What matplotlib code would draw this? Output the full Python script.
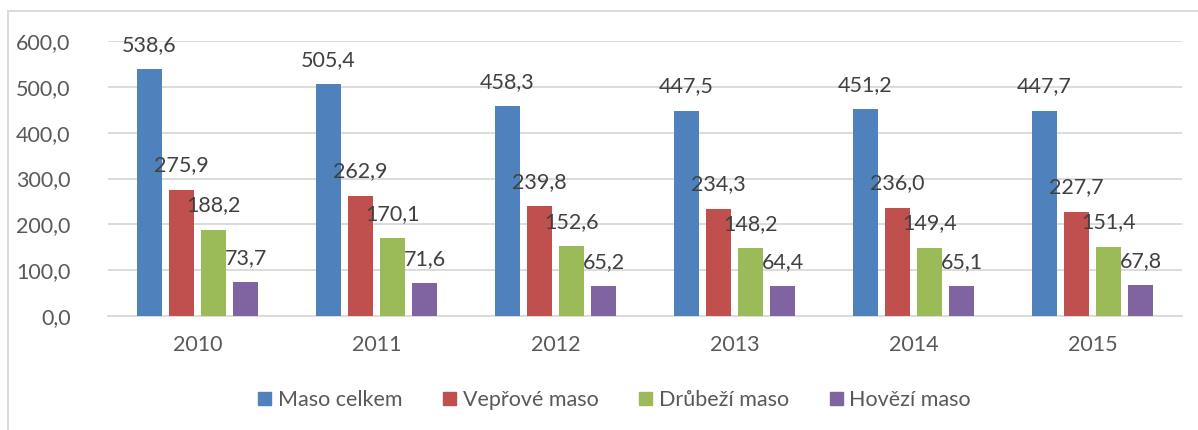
import matplotlib.pyplot as plt
import numpy as np
from matplotlib.lines import Line2D
from matplotlib.patches import Rectangle

FIG_W, FIG_H, DPI = 1198, 430, 100

YEARS = ["2010", "2011", "2012", "2013", "2014", "2015"]
SERIES_NAMES = ["Maso celkem", "Vepřové maso", "Drůbeží maso", "Hovězí maso"]
MASO_CELKEM = [538.6, 505.4, 458.3, 447.5, 451.2, 447.7]
VEPROVE = [275.9, 262.9, 239.8, 234.3, 236.0, 227.7]
DRUBEZI = [188.2, 170.1, 152.6, 148.2, 149.4, 151.4]
HOVEZI = [73.7, 71.6, 65.2, 64.4, 65.1, 67.8]
Y_TICKS = [0, 100, 200, 300, 400, 500, 600]

COLORS = ["#4F81BD", "#C0504D", "#9BBB59", "#8064A2"]
GRID_COLOR = "#D9D9D9"
TEXT_COLOR = "#595959"
LABEL_COLOR = "#404040"
FONT = "Lato"
FONT_SIZE = 15.5

BAR_PITCH = 0.18
BAR_WIDTH = 0.14


def fmt(v):
    return f"{v:.1f}".replace(".", ",")


def main():
    plt.rcParams["font.family"] = [FONT, "DejaVu Sans"]
    fig = plt.figure(figsize=(FIG_W / DPI, FIG_H / DPI), dpi=DPI)
    ax = fig.add_axes([108 / FIG_W, 1 - 316 / FIG_H, (1182 - 108) / FIG_W, (316 - 41) / FIG_H])

    series = [MASO_CELKEM, VEPROVE, DRUBEZI, HOVEZI]
    x = np.arange(len(YEARS))
    handles = []
    for i, (name, vals, color) in enumerate(zip(SERIES_NAMES, series, COLORS)):
        pos = x + (i - 1.5) * BAR_PITCH
        bars = ax.bar(pos, vals, width=BAR_WIDTH, color=color, zorder=3, label=name)
        handles.append(Rectangle((0, 0), 1, 1, color=color))
        for b, v in zip(bars, vals):
            ax.annotate(fmt(v), (b.get_x() + b.get_width() / 2, v),
                        xytext=(0, 17.5), textcoords="offset points",
                        ha="center", va="center", fontsize=FONT_SIZE,
                        color=LABEL_COLOR, zorder=4)

    ax.set_xlim(-0.5, len(YEARS) - 0.5)
    ax.set_ylim(0, 600)
    ax.set_yticks(Y_TICKS)
    ax.set_yticklabels([fmt(v) for v in Y_TICKS])
    ax.set_xticks(x)
    ax.set_xticklabels(YEARS)
    ax.tick_params(length=0, labelsize=FONT_SIZE, labelcolor=TEXT_COLOR)
    ax.tick_params(axis="y", pad=27)
    ax.tick_params(axis="x", pad=14)
    ax.grid(True, axis="y", color=GRID_COLOR, lw=1.3, zorder=0)
    for s in ["top", "right", "left"]:
        ax.spines[s].set_visible(False)
    ax.spines["bottom"].set_color(GRID_COLOR)
    ax.spines["bottom"].set_linewidth(1.3)

    fig.legend(handles, SERIES_NAMES, loc="center", bbox_to_anchor=(0.513, 1 - 400 / FIG_H),
               ncol=4, frameon=False, fontsize=FONT_SIZE, labelcolor=TEXT_COLOR,
               handlelength=0.6, handleheight=0.6, handletextpad=0.3, columnspacing=1.9)

    # chart border
    fig.add_artist(Line2D([8 / FIG_W, 8 / FIG_W], [0, 1 - 11 / FIG_H], color=GRID_COLOR, lw=1.3))
    fig.add_artist(Line2D([8 / FIG_W, 1], [1 - 11 / FIG_H, 1 - 11 / FIG_H], color=GRID_COLOR, lw=1.3))

    fig.savefig("out.png", dpi=DPI)


if __name__ == "__main__":
    main()
